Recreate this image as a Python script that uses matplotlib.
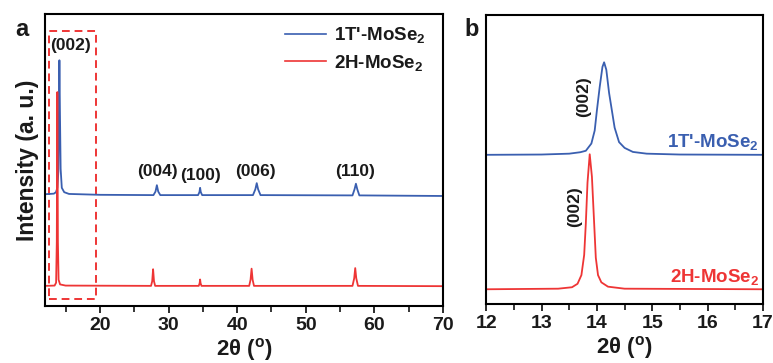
import matplotlib
matplotlib.use("Agg")
import matplotlib.pyplot as plt
from matplotlib.patches import Rectangle

plt.rcParams['font.family'] = ['Liberation Sans', 'DejaVu Sans']
plt.rcParams['font.weight'] = 'bold'
plt.rcParams['mathtext.fontset'] = 'custom'
plt.rcParams['mathtext.rm'] = 'Liberation Sans:bold'
plt.rcParams['mathtext.bf'] = 'Liberation Sans:bold'
plt.rcParams['mathtext.it'] = 'Liberation Sans:bold'
plt.rcParams['mathtext.default'] = 'bf'

BLUE = '#3A5FB0'
RED = '#EE3535'
TXT = '#1a1a1a'

series_names = ["1T'-MoSe$_2$", "2H-MoSe$_2$"]

# ---- Panel a: full-range XRD (2theta, intensity a.u.) ----
a_blue_x = [12, 13.3, 13.6, 13.8, 13.95, 14.03, 14.1, 14.18, 14.28, 14.45, 14.8, 15.5, 20,
            27.8, 28.1, 28.3, 28.5, 28.8, 34.3, 34.5, 34.6, 34.7, 34.9,
            42.3, 42.65, 42.85, 43.05, 43.4, 56.8, 57.1, 57.3, 57.5, 57.8, 70]
a_blue_y = [38.3, 38.5, 39.0, 40.5, 46, 66, 84.2, 66, 47, 40.5, 39.0, 38.4, 38.1,
            38.0, 39.2, 41.4, 39.2, 38.0, 38.0, 39.0, 40.5, 39.0, 38.0,
            38.0, 40.0, 42.1, 40.0, 38.0, 37.9, 40.0, 41.9, 40.0, 37.9, 37.7]

a_red_x = [12, 13.4, 13.62, 13.72, 13.8, 13.88, 13.98, 14.2, 15, 27.45, 27.62, 27.75, 27.88, 28.05,
           34.4, 34.53, 34.6, 34.67, 34.8, 41.75, 41.95, 42.1, 42.25, 42.45,
           56.8, 57.05, 57.2, 57.35, 57.6, 70]
a_red_y = [6.9, 7.0, 8.0, 22, 73.3, 22, 9.0, 7.4, 7.0, 6.9, 8.5, 12.6, 8.5, 6.9,
           6.9, 7.8, 9.1, 7.8, 6.9, 6.9, 9.0, 12.8, 9.0, 6.9,
           6.9, 9.5, 13.0, 9.5, 6.9, 6.8]

a_peak_labels = ['(002)', '(004)', '(100)', '(006)', '(110)']
a_label_x = [15.75, 28.4, 34.6, 42.6, 57.2]
a_label_y = [89.1, 46.0, 44.6, 46.1, 46.2]

# ---- Panel b: zoom on (002) ----
b_blue_x = [12, 13.0, 13.5, 13.7, 13.8, 13.9, 13.96, 14.0, 14.05, 14.1, 14.13, 14.17, 14.22,
            14.27, 14.32, 14.4, 14.5, 14.65, 14.9, 15.5, 17]
b_blue_y = [51.6, 51.7, 52.0, 52.5, 53.0, 55.5, 60, 67, 75, 82, 83.6, 81, 73,
            67, 61, 56, 54, 52.6, 52.0, 51.7, 51.6]
b_red_x = [12, 13.3, 13.55, 13.65, 13.72, 13.77, 13.8, 13.83, 13.87, 13.91, 13.95, 13.98,
           14.02, 14.08, 14.2, 14.5, 17]
b_red_y = [5.1, 5.3, 5.8, 7.0, 10, 17, 28, 42, 51.8, 44, 28, 16,
           10, 7.5, 6.0, 5.3, 5.1]
b_label_x = [13.76, 13.60]
b_label_y = [71.7, 33.7]
b_name_y = [56.2, 9.4]

a_xticks = [20, 30, 40, 50, 60, 70]
b_xticks = [12, 13, 14, 15, 16, 17]

fig = plt.figure(figsize=(7.73, 3.63), dpi=100)
axa = fig.add_axes([0.0582, 0.157, 0.515, 0.804])
axb = fig.add_axes([0.629, 0.1625, 0.358, 0.7965])

tick_font = dict(family=['Liberation Sans', 'DejaVu Sans'], weight='bold', size=14)
xlabel_text = '2θ ($\\mathregular{^o}$)'

for ax in (axa, axb):
    for s in ax.spines.values():
        s.set_linewidth(1.5)
    ax.set_yticks([])
    ax.tick_params(axis='x', which='major', direction='out', length=5, width=1.3, pad=3,
                   colors=TXT)
    ax.tick_params(axis='x', which='minor', direction='out', length=4, width=1.1)
    ax.set_ylim(0, 100)

# panel a
axa.plot(a_blue_x, a_blue_y, color=BLUE, lw=1.3, label=series_names[0])
axa.plot(a_red_x, a_red_y, color=RED, lw=1.3, label=series_names[1])
axa.set_xlim(12, 70)
axa.set_xticks(a_xticks)
axa.set_xticks([15, 25, 35, 45, 55, 65], minor=True)
axa.set_xticklabels([str(t) for t in a_xticks], fontdict=tick_font)
axa.add_patch(Rectangle((12.6, 2.4), 19.46 - 12.6, 94.3 - 2.4, fill=False,
                        edgecolor=RED, lw=1.4, ls=(0, (4, 2.5))))
for lab, x, y in zip(a_peak_labels, a_label_x, a_label_y):
    axa.text(x, y, lab, ha='center', va='center', fontsize=12.5, fontweight='bold', color=TXT)
axa.set_ylabel('Intensity (a. u.)', fontsize=16.5, fontweight='bold', labelpad=4, color=TXT)
axa.set_xlabel(xlabel_text, fontsize=16, fontweight='bold', labelpad=1, color=TXT)
leg = axa.legend(loc='upper right', frameon=False, fontsize=13.5, handlelength=2.2,
                 handletextpad=0.45, labelspacing=0.4, borderaxespad=0.2,
                 bbox_to_anchor=(0.985, 1.0))
for t in leg.get_texts():
    t.set_color(TXT)
for l in leg.get_lines():
    l.set_linewidth(1.2)
fig.text(21.7 / 773, 1 - 30 / 363, 'a', fontsize=17, fontweight='bold', ha='center',
         va='center', color=TXT)

# panel b
axb.plot(b_blue_x, b_blue_y, color=BLUE, lw=1.3)
axb.plot(b_red_x, b_red_y, color=RED, lw=1.3)
axb.set_xlim(12, 17)
axb.set_xticks(b_xticks)
axb.set_xticks([12.5, 13.5, 14.5, 15.5, 16.5], minor=True)
axb.set_xticklabels([str(t) for t in b_xticks], fontdict=tick_font)
for x, y in zip(b_label_x, b_label_y):
    axb.text(x, y, '(002)', rotation=90, ha='center', va='center', fontsize=12.5,
             fontweight='bold', color=TXT)
axb.text(16.93, b_name_y[0], series_names[0], color=BLUE, ha='right', va='center',
         fontsize=13.5, fontweight='bold')
axb.text(16.93, b_name_y[1], series_names[1], color=RED, ha='right', va='center',
         fontsize=13.5, fontweight='bold')
axb.set_xlabel(xlabel_text, fontsize=16, fontweight='bold', labelpad=1, color=TXT)
fig.text(471.7 / 773, 1 - 30 / 363, 'b', fontsize=17, fontweight='bold', ha='center',
         va='center', color=TXT)

fig.savefig('out.png', dpi=100)
